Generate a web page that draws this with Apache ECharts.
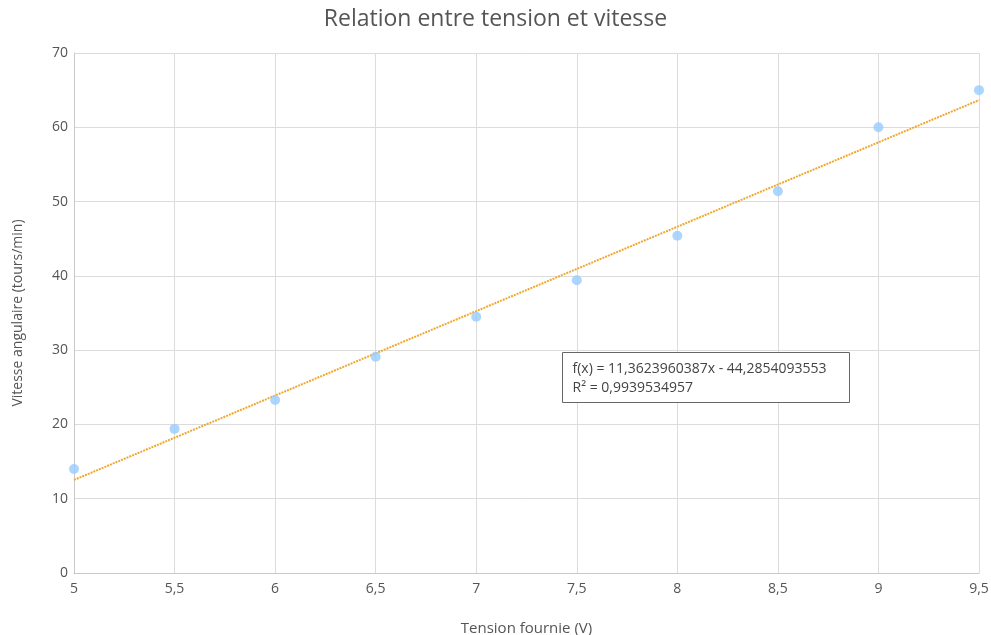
<!DOCTYPE html>
<html><head><meta charset="utf-8">
<script src="https://cdn.jsdelivr.net/npm/echarts@6/dist/echarts.min.js"></script>
<style>html,body{margin:0;padding:0;background:#fff}#c{width:991px;height:635px}</style>
</head><body><div id="c"></div>
<script>
const tension = [5, 5.5, 6, 6.5, 7, 7.5, 8, 8.5, 9, 9.5];
const vitesse = [14.0, 19.4, 23.3, 29.1, 34.5, 39.4, 45.4, 51.4, 60.0, 65.0];
const slope = 11.3623960387;
const intercept = -44.2854093553;
const r2 = 0.9939534957;
const eqText = 'f(x) = 11,3623960387x - 44,2854093553\nR² = 0,9939534957';

const pts = tension.map((x, i) => [x, vitesse[i]]);
const xMin = tension[0], xMax = tension[tension.length - 1];
const trend = [[xMin, slope * xMin + intercept], [xMax, slope * xMax + intercept]];
const fmt = v => String(v).replace('.', ',');
const FONT = 'Open Sans';

const chart = echarts.init(document.getElementById('c'));
chart.setOption({
  backgroundColor: '#fff',
  animation: false,
  title: {
    text: 'Relation entre tension et vitesse', left: 'center', top: 3,
    textStyle: { fontFamily: FONT, fontSize: 23, fontWeight: 'normal', color: '#555' }
  },
  grid: { left: 74, right: 12, top: 53, bottom: 62, outerBoundsMode: 'none', containLabel: false },
  xAxis: {
    type: 'value', min: 5, max: 9.5, interval: 0.5,
    name: 'Tension fournie (V)', nameLocation: 'middle', nameGap: 48,
    nameTextStyle: { fontFamily: FONT, fontSize: 15, color: '#555' },
    axisLine: { lineStyle: { color: '#c8c8c8' } },
    axisTick: { show: false },
    axisLabel: { fontFamily: FONT, fontSize: 14, color: '#555', margin: 9, formatter: fmt },
    splitLine: { show: true, lineStyle: { color: '#dcdcdc' } }
  },
  yAxis: {
    type: 'value', min: 0, max: 70, interval: 10,
    name: 'Vitesse angulaire (tours/min)', nameLocation: 'middle', nameGap: 49,
    nameTextStyle: { fontFamily: FONT, fontSize: 14, color: '#555' },
    axisLine: { show: true, lineStyle: { color: '#c8c8c8' } },
    axisTick: { show: false },
    axisLabel: { fontFamily: FONT, fontSize: 14, color: '#555', margin: 6, formatter: fmt },
    splitLine: { show: true, lineStyle: { color: '#dcdcdc' } }
  },
  series: [
    {
      type: 'line', data: trend, showSymbol: false, symbol: 'none',
      lineStyle: { color: '#f0a830', width: 2, type: [2, 1] }, z: 2
    },
    {
      type: 'scatter', data: pts, symbolSize: 10,
      itemStyle: { color: '#99ccff' }, z: 3
    }
  ],
  graphic: [{
    type: 'group', left: 562, top: 352, z: 100,
    children: [
      { type: 'rect', z: 100, shape: { x: 0, y: 0, width: 287, height: 50 },
        style: { fill: '#fff', stroke: '#666', lineWidth: 1 } },
      { type: 'text', z: 101, left: 10, top: 7,
        style: { text: eqText, fontFamily: FONT, fontSize: 14, lineHeight: 19, fill: '#444' } }
    ]
  }]
});
</script></body></html>
